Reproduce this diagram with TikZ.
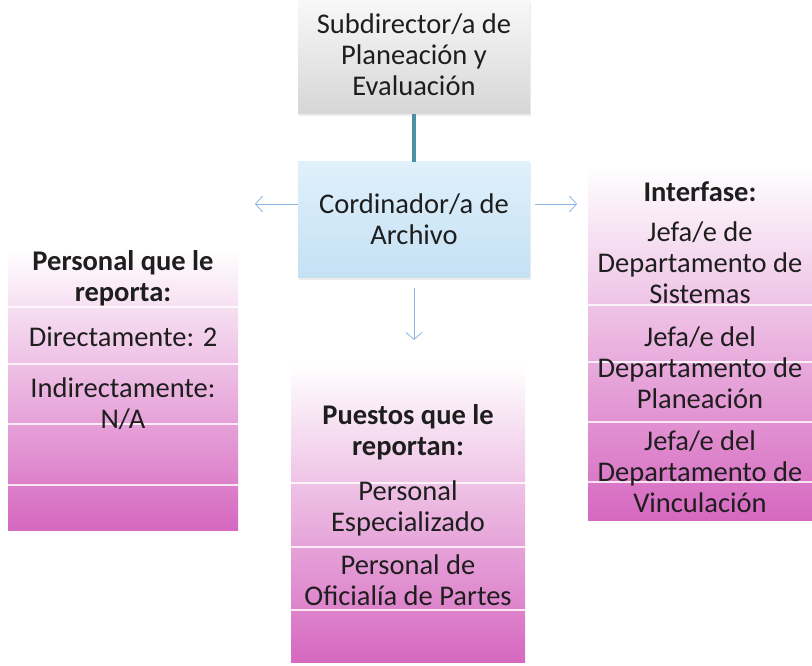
\documentclass[tikz,border=0pt]{standalone}
\usepackage{fontspec}
\setmainfont{Carlito}
\usetikzlibrary{arrows.meta,shadows}
\definecolor{txt}{RGB}{30,30,30}
\definecolor{pinkB}{RGB}{214,104,192}
\definecolor{grayB}{RGB}{214,214,214}
\definecolor{grayT}{RGB}{248,248,248}
\definecolor{blueT}{RGB}{224,240,251}
\definecolor{blueB}{RGB}{196,225,244}
\definecolor{teal}{RGB}{74,145,166}
\definecolor{arrc}{RGB}{140,180,225}
\begin{document}
\begin{tikzpicture}[x=1pt,y=1pt,
  every node/.style={inner sep=0pt, outer sep=0pt},
  txtnode/.style={text=txt, align=center, font=\fontsize{28.5}{31}\selectfont},
  hdrnode/.style={txtnode, font=\fontsize{28.5}{31}\selectfont\bfseries},
  graybox/.style={rectangle, top color=grayT, bottom color=grayB, draw=none,
    drop shadow={opacity=0.15, shadow xshift=1pt, shadow yshift=-2pt}},
  bluebox/.style={rectangle, top color=blueT, bottom color=blueB, draw=none,
    drop shadow={opacity=0.15, shadow xshift=1pt, shadow yshift=-2pt}},
  pinkbox/.style={rectangle, top color=white, bottom color=pinkB, draw=none},
  sep/.style={white, line width=1.4pt, opacity=0.8},
  arr/.style={arrc, line width=0.8pt, -{Straight Barb[length=7pt,width=16pt,line width=0.8pt]}}
]
\useasboundingbox (0,0) rectangle (812,665);

% boxes
\node[graybox, minimum width=232pt, minimum height=114pt] (top) at (414,608) {};
\node[bluebox, minimum width=232pt, minimum height=116pt] (mid) at (414,445) {};
\node[pinkbox, minimum width=230pt, minimum height=282pt] (left) at (123,276) {};
\node[pinkbox, minimum width=224pt, minimum height=355pt] (right) at (700,322.5) {};
\node[pinkbox, minimum width=234pt, minimum height=297pt] (bot) at (408,151.5) {};

% separators
\foreach \yy in {358,301,241,180} \draw[sep] (left.west |- 0,\yy) -- (left.east |- 0,\yy);
\foreach \yy in {360,303,243,183} \draw[sep] (right.west |- 0,\yy) -- (right.east |- 0,\yy);
\foreach \yy in {182,118,55} \draw[sep] (bot.west |- 0,\yy) -- (bot.east |- 0,\yy);

% texts
\node[txtnode] (toptxt) at (414,610) {Subdirector/a de\\Planeación y\\Evaluación};
\node[txtnode] (midtxt) at (414,446) {Cordinador/a de\\Archivo};

\node[hdrnode] (lh) at (123,387) {Personal que le\\reporta:};
\node[txtnode] (l1) at (123,328) {Directamente: 2};
\node[txtnode] (l2) at (123,261) {Indirectamente:\\N/A};

\node[hdrnode] (rh) at (700,473) {Interfase:};
\node[txtnode] (r1) at (700,402) {Jefa/e de\\Departamento de\\Sistemas};
\node[txtnode] (r2) at (700,297) {Jefa/e del\\Departamento de\\Planeación};
\node[txtnode] (r3) at (700,193) {Jefa/e del\\Departamento de\\Vinculación};

\node[hdrnode] (bh) at (408,233) {Puestos que le\\reportan:};
\node[txtnode] (b1) at (408,157) {Personal\\Especializado};
\node[txtnode] (b2) at (408,85) {Personal de\\Oficialía de Partes};

% connectors
\draw[teal, line width=4pt] (top.south) -- (mid.north);
\coordinate (lt) at (255,461);
\coordinate (rt) at (577,461);
\coordinate (dt) at (414,325);
\draw[arr] (mid.west |- lt) -- (lt);
\draw[arr, shorten <=5pt] (mid.east |- rt) -- (rt);
\draw[arr, shorten <=10pt] (mid.south) -- (dt);
\end{tikzpicture}
\end{document}
